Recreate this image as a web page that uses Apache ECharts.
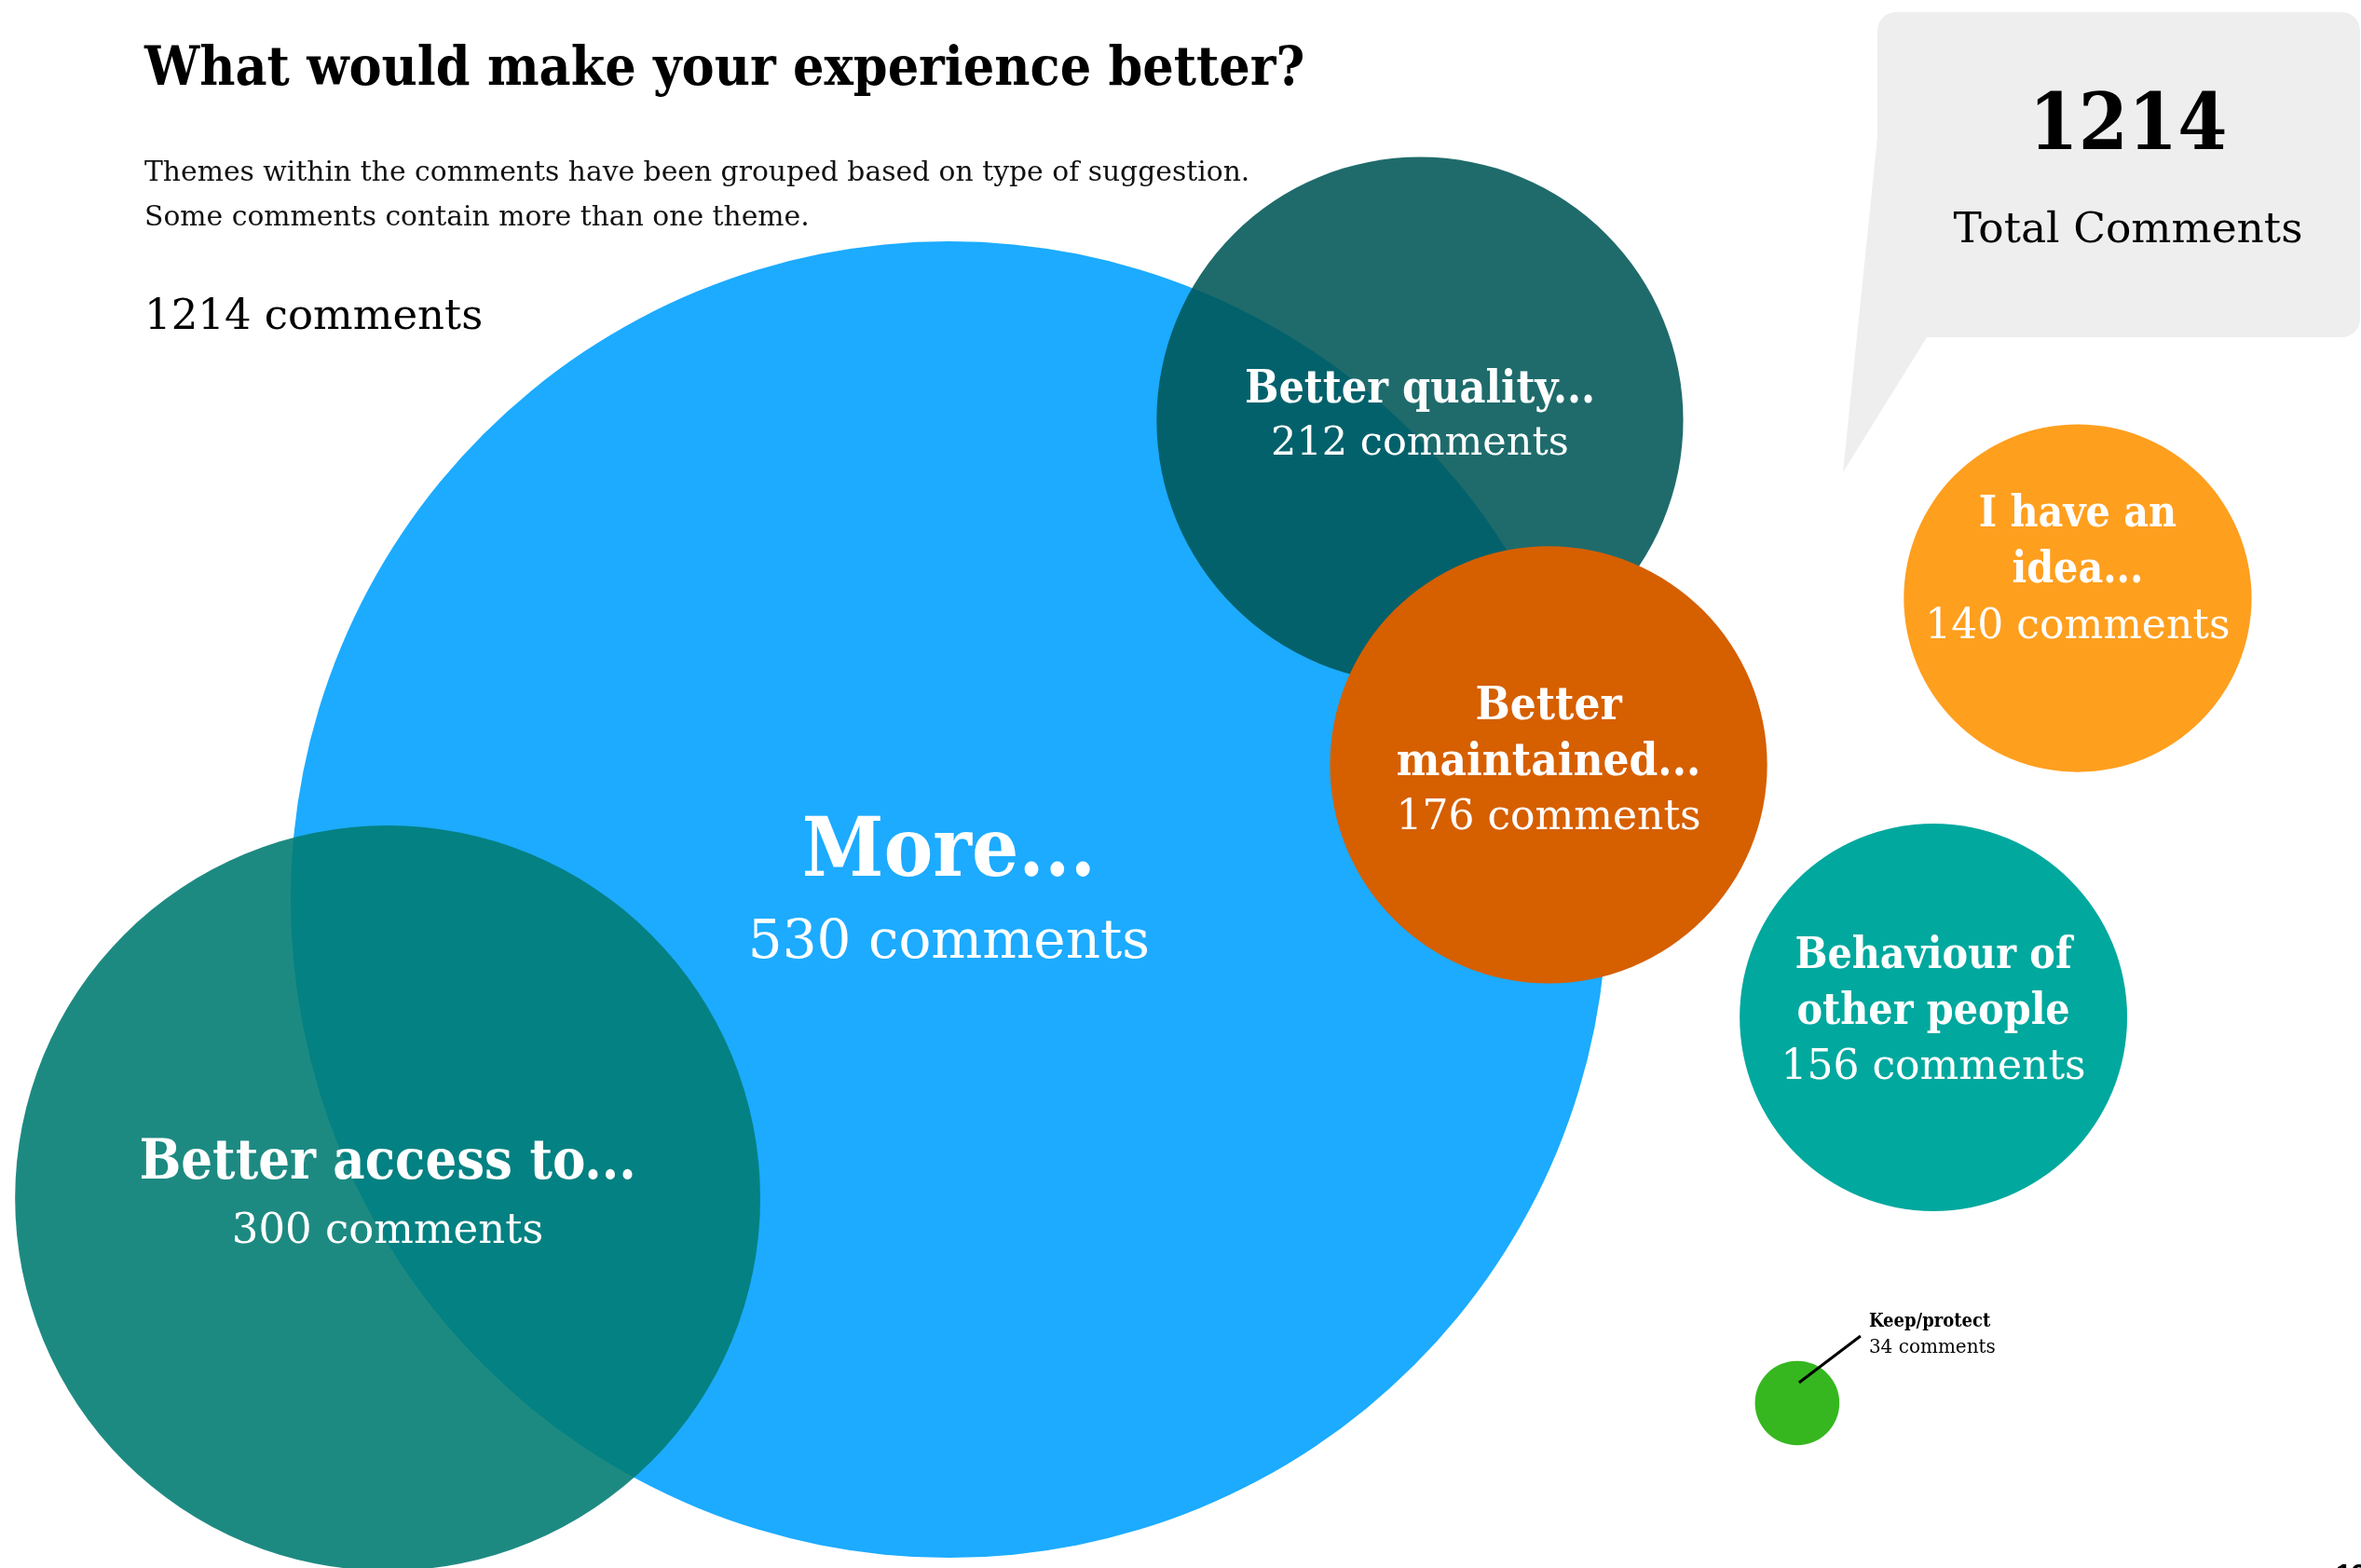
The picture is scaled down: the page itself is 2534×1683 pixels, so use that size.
<!DOCTYPE html>
<html>
<head>
<meta charset="utf-8">
<title>What would make your experience better?</title>
<script src="https://cdn.jsdelivr.net/npm/echarts@6/dist/echarts.min.js"></script>
<style>
  html, body { margin: 0; padding: 0; background: #ffffff; }
  #chart { width: 2534px; height: 1683px; }
</style>
</head>
<body>
<div id="chart"></div>
<script>
// Comment themes and how many comments mentioned each one
const themes = [
  'More...',
  'Better access to...',
  'Better quality...',
  'Better\nmaintained...',
  'I have an\nidea...',
  'Behaviour of\nother people',
  'Keep/protect'
];
const comments = [530, 300, 212, 176, 140, 156, 34];
const totalComments = 1214;

// Heading texts
const titleText = 'What would make your experience better?';
const subtitleLines = [
  'Themes within the comments have been grouped based on type of suggestion.',
  'Some comments contain more than one theme.'
];
const totalLabel = 'Total Comments';

// Where each bubble sits, as a percentage of the canvas width / height
const bubbleLayout = {
  x: [40.19, 16.42, 60.14, 65.59, 88.0, 81.89, 76.12],
  y: [57.37, 76.41, 26.80, 48.78, 38.15, 64.88, 89.48]
};

const BOLD = '"DejaVu Serif Condensed", "DejaVu Serif", serif';
const REG = '"DejaVu Serif", serif';
const pxPerComment = 1.333; // bubble radius in pixels per comment

const colours = ['#1cabff', 'rgba(1,124,115,0.89)', 'rgba(0,87,86,0.88)',
  '#d65f00', '#ff9f1e', '#00a89e', '#36b71f'];

// per-bubble label styling: [bold size, bold line height, regular size, regular line height, vertical offset]
const labelStyle = [
  [88, 104, 58, 86, -5],
  [59, 72, 45, 72, 0],
  [48, 58, 43, 58, -3],
  [49, 60, 44, 60, -2],
  [46, 60, 44, 60, -29],
  [46, 60, 44, 60, -5],
  null
];

const chart = echarts.init(document.getElementById('chart'), null, { renderer: 'canvas' });

const seriesData = comments.map(function (n, i) {
  const item = {
    name: themes[i],
    value: [bubbleLayout.x[i], bubbleLayout.y[i], n],
    itemStyle: { color: colours[i], opacity: 1 }
  };
  const s = labelStyle[i];
  if (s) {
    item.label = {
      show: true,
      position: 'inside',
      offset: [0, s[4]],
      align: 'center',
      verticalAlign: 'middle',
      formatter: function () {
        return themes[i].split('\n').map(function (l) { return '{b|' + l + '}'; }).join('\n') +
          '\n{n|' + n + ' comments}';
      },
      rich: {
        b: { fontFamily: BOLD, fontWeight: 'bold', fontSize: s[0], lineHeight: s[1], color: '#ffffff', align: 'center' },
        n: { fontFamily: REG, fontSize: s[2], lineHeight: s[3], color: '#ffffff', align: 'center' }
      }
    };
  } else {
    item.label = { show: false };
  }
  return item;
});

chart.setOption({
  animation: false,
  backgroundColor: '#ffffff',
  grid: { left: 0, right: 0, top: 0, bottom: 0 },
  xAxis: { type: 'value', min: 0, max: 100, show: false },
  yAxis: { type: 'value', min: 0, max: 100, inverse: true, show: false },
  series: [{
    type: 'scatter',
    symbol: 'circle',
    symbolSize: function (val) { return val[2] * pxPerComment * 2; },
    itemStyle: { opacity: 1 },
    emphasis: { disabled: true },
    data: seriesData
  }]
});

// Callout, headings and the small-bubble annotation
const keepIdx = 6;
const keepPx = chart.convertToPixel({ seriesIndex: 0 }, [bubbleLayout.x[keepIdx], bubbleLayout.y[keepIdx]]);

chart.setOption({
  graphic: {
    z: 100,
    elements: [
      { type: 'polygon', z: 1, shape: { points: [[2015, 60], [2015, 147], [1978, 507], [2068, 362], [2120, 362], [2120, 60]] }, style: { fill: '#eeeeee' } },
      { type: 'rect', z: 1, shape: { x: 2015, y: 13, width: 518, height: 349, r: 20 }, style: { fill: '#eeeeee' } },
      { type: 'text', z: 2, x: 2284, y: 138, style: { text: String(totalComments), font: 'bold 85px ' + BOLD, fill: '#000000', align: 'center', verticalAlign: 'middle' } },
      { type: 'text', z: 2, x: 2284, y: 248, style: { text: totalLabel, font: '45.5px ' + REG, fill: '#000000', align: 'center', verticalAlign: 'middle' } },
      { type: 'text', z: 2, x: 155, y: 76, style: { text: titleText, font: 'bold 58.5px ' + BOLD, fill: '#000000', verticalAlign: 'middle' } },
      { type: 'text', z: 2, x: 155, y: 186, style: { text: subtitleLines[0], font: '29.8px ' + REG, fill: '#111111', verticalAlign: 'middle' } },
      { type: 'text', z: 2, x: 155, y: 234, style: { text: subtitleLines[1], font: '29.8px ' + REG, fill: '#111111', verticalAlign: 'middle' } },
      { type: 'text', z: 2, x: 155, y: 341, style: { text: totalComments + ' comments', font: '45px ' + REG, fill: '#000000', verticalAlign: 'middle' } },
      { type: 'line', z: 3, shape: { x1: keepPx[0] + 2, y1: keepPx[1] - 22, x2: keepPx[0] + 68, y2: keepPx[1] - 72 }, style: { stroke: '#000000', lineWidth: 3 } },
      { type: 'text', z: 2, x: keepPx[0] + 77, y: keepPx[1] - 87, style: { text: themes[keepIdx], font: 'bold 20px ' + BOLD, fill: '#000000', verticalAlign: 'middle' } },
      { type: 'text', z: 2, x: keepPx[0] + 77, y: keepPx[1] - 59, style: { text: comments[keepIdx] + ' comments', font: '20px ' + REG, fill: '#000000', verticalAlign: 'middle' } },
      { type: 'text', z: 2, x: 2507, y: 1676, style: { text: '13', font: 'bold 30px "Liberation Sans", sans-serif', fill: '#000000', verticalAlign: 'top' } }
    ]
  }
});
</script>
</body>
</html>
